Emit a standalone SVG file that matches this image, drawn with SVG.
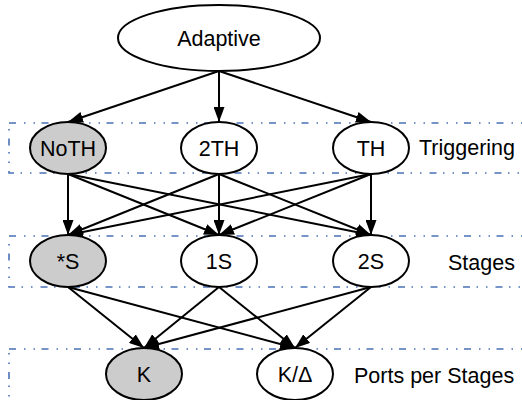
<svg xmlns="http://www.w3.org/2000/svg" width="522" height="400" viewBox="0 0 522 400">
  <style>
    .node ellipse { fill: #ffffff; stroke: #000000; stroke-width: 2; }
    .node.default ellipse { fill: #cccccc; }
    text { font-family: "Liberation Sans", Arial, sans-serif; font-size: 21.5px; fill: #000000; }
    .node text { text-anchor: middle; }
    .edges line { stroke: #000000; stroke-width: 2; marker-end: url(#arrow); }
    .cluster rect { fill: none; stroke: #4a72b6; stroke-width: 1.6; stroke-dasharray: 7 8 1.5 8 1.5 6.5; }
  </style>
  <defs>
    <marker id="arrow" markerUnits="userSpaceOnUse" viewBox="0 0 15 11" refX="15" refY="5.5" markerWidth="15" markerHeight="11" orient="auto">
      <path d="M0,0 L15,5.5 L0,11 z" fill="#000000"/>
    </marker>
  </defs>

  <!-- layer frames -->
  <g id="cluster-triggering" class="cluster">
    <rect x="9" y="123" width="530" height="50"/>
    <text x="419" y="155">Triggering</text>
  </g>
  <g id="cluster-stages" class="cluster">
    <rect x="9" y="236" width="530" height="51"/>
    <text x="448" y="270">Stages</text>
  </g>
  <g id="cluster-ports" class="cluster">
    <rect x="9" y="349" width="530" height="70"/>
    <text x="354" y="383">Ports per Stages</text>
  </g>

  <!-- connectors -->
  <g id="edges" class="edges">
    <line x1="219" y1="71" x2="68" y2="122"/>
    <line x1="219" y1="71" x2="219" y2="122"/>
    <line x1="219" y1="71" x2="371" y2="122"/>

    <line x1="68" y1="174" x2="68" y2="235"/>
    <line x1="68" y1="174" x2="219" y2="235"/>
    <line x1="68" y1="174" x2="371" y2="235"/>
    <line x1="219" y1="174" x2="68" y2="235"/>
    <line x1="219" y1="174" x2="219" y2="235"/>
    <line x1="219" y1="174" x2="371" y2="235"/>
    <line x1="371" y1="174" x2="68" y2="235"/>
    <line x1="371" y1="174" x2="219" y2="235"/>
    <line x1="371" y1="174" x2="371" y2="235"/>

    <line x1="68" y1="287" x2="144" y2="348"/>
    <line x1="68" y1="287" x2="295" y2="348"/>
    <line x1="219" y1="287" x2="144" y2="348"/>
    <line x1="219" y1="287" x2="295" y2="348"/>
    <line x1="371" y1="287" x2="144" y2="348"/>
    <line x1="371" y1="287" x2="295" y2="348"/>
  </g>

  <!-- nodes -->
  <g id="adaptive" class="node">
    <ellipse cx="219" cy="38" rx="101" ry="33"/>
    <text x="219" y="46">Adaptive</text>
  </g>

  <g id="noth" class="node default">
    <ellipse cx="68" cy="148" rx="38" ry="26"/>
    <text x="68" y="156">NoTH</text>
  </g>
  <g id="twoth" class="node">
    <ellipse cx="219" cy="148" rx="38" ry="26"/>
    <text x="219" y="156">2TH</text>
  </g>
  <g id="th" class="node">
    <ellipse cx="371" cy="148" rx="38" ry="26"/>
    <text x="371" y="156">TH</text>
  </g>

  <g id="anystage" class="node default">
    <ellipse cx="68" cy="261" rx="38" ry="26"/>
    <text x="68" y="269">*S</text>
  </g>
  <g id="onestage" class="node">
    <ellipse cx="219" cy="261" rx="38" ry="26"/>
    <text x="219" y="269">1S</text>
  </g>
  <g id="twostage" class="node">
    <ellipse cx="371" cy="261" rx="38" ry="26"/>
    <text x="371" y="269">2S</text>
  </g>

  <g id="k" class="node default">
    <ellipse cx="144" cy="374" rx="38" ry="26"/>
    <text x="144" y="382">K</text>
  </g>
  <g id="kdelta" class="node">
    <ellipse cx="295" cy="374" rx="38" ry="26"/>
    <text x="295" y="382">K/Δ</text>
  </g>
</svg>
